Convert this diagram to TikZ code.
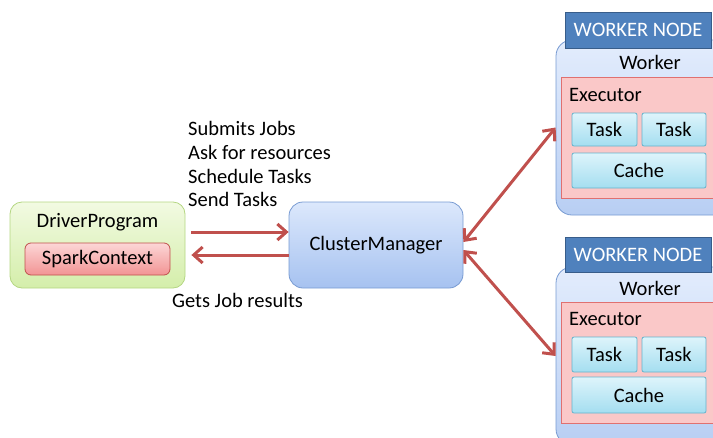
\documentclass[tikz,border=0pt]{standalone}
\usepackage{fontspec}
\setmainfont{Carlito}
\usepackage{tikz}
\usetikzlibrary{arrows.meta,positioning,calc}
\usepackage{xcolor}
\definecolor{drvtop}{RGB}{242,250,226}
\definecolor{drvbot}{RGB}{212,238,170}
\definecolor{drvline}{RGB}{180,214,130}
\definecolor{sctop}{RGB}{252,214,214}
\definecolor{scbot}{RGB}{242,148,148}
\definecolor{scline}{RGB}{192,80,77}
\definecolor{cmtop}{RGB}{220,232,252}
\definecolor{cmbot}{RGB}{166,194,240}
\definecolor{cmline}{RGB}{120,155,210}
\definecolor{hdrfill}{RGB}{79,129,189}
\definecolor{hdrline}{RGB}{56,93,138}
\definecolor{execfill}{RGB}{250,200,200}
\definecolor{execline}{RGB}{224,112,112}
\definecolor{tasktop}{RGB}{222,244,251}
\definecolor{taskbot}{RGB}{164,222,240}
\definecolor{taskline}{RGB}{100,180,205}
\definecolor{arrowred}{RGB}{192,80,77}
\tikzset{
    basebox/.style={
        rectangle,
        draw,
        line width=0.8pt,
        text centered
    },
    driverbox/.style={
        basebox,
        rounded corners=12pt,
        draw=drvline,
        top color=drvtop,
        bottom color=drvbot
    },
    contextbox/.style={
        basebox,
        rounded corners=6pt,
        draw=scline,
        top color=sctop,
        bottom color=scbot
    },
    managerbox/.style={
        basebox,
        rounded corners=14pt,
        draw=cmline,
        top color=cmtop,
        bottom color=cmbot
    },
    workerbox/.style={
        basebox,
        rounded corners=16pt,
        draw=cmline,
        top color=cmtop!80,
        bottom color=cmbot!80
    },
    headerbox/.style={
        basebox,
        draw=hdrline,
        fill=hdrfill,
        text=white
    },
    execbox/.style={
        basebox,
        draw=execline,
        fill=execfill
    },
    taskbox/.style={
        basebox,
        rounded corners=2pt,
        draw=taskline,
        top color=tasktop,
        bottom color=taskbot
    },
    bigarrow/.style={
        -{Straight Barb[length=9pt,width=16pt,line width=3pt]},
        line width=3pt,
        arrowred
    },
    bothways/.style={
        bigarrow,
        {Straight Barb[length=9pt,width=16pt,line width=3pt]}-{Straight Barb[length=9pt,width=16pt,line width=3pt]}
    }
}

\begin{document}
\begin{tikzpicture}[x=1pt,y=-1pt,font=\fontsize{20.5}{24}\selectfont]
    \useasboundingbox (0,0) rectangle (713,437);

    % Driver side
    \node[driverbox, minimum width=175pt, minimum height=86pt] (driver) at (97.5,245) {};
    \node (drivertitle) at (97.5,222) {DriverProgram};
    \node[contextbox, minimum width=145pt, minimum height=32pt] (sparkctx) at (97.5,259) {SparkContext};

    % Cluster manager
    \node[managerbox, minimum width=174pt, minimum height=86pt] (manager) at (376,245) {ClusterManager};

    % Worker node 1
    \node[workerbox, minimum width=184pt, minimum height=175pt] (worker1) at (648,127.5) {};
    \node[headerbox, minimum width=146pt, minimum height=36pt] (header1) at (638,30) {WORKER NODE};
    \node (workertitle1) at (650,62) {Worker};
    \node[execbox, minimum width=159pt, minimum height=121pt] (exec1) at (640.5,137.5) {};
    \node[anchor=west, inner sep=0pt] (exectitle1) at (569,95) {Executor};
    \node[taskbox, minimum width=65pt, minimum height=33pt] (task1a) at (604.5,129.5) {Task};
    \node[taskbox, minimum width=64pt, minimum height=33pt] (task1b) at (674,129.5) {Task};
    \node[taskbox, minimum width=134pt, minimum height=35pt] (cache1) at (639,170.5) {Cache};

    % Worker node 2
    \node[workerbox, minimum width=184pt, minimum height=178pt] (worker2) at (648,356) {};
    \node[headerbox, minimum width=146pt, minimum height=35pt] (header2) at (638,254.5) {WORKER NODE};
    \node (workertitle2) at (650,288) {Worker};
    \node[execbox, minimum width=159pt, minimum height=121pt] (exec2) at (640.5,362.5) {};
    \node[anchor=west, inner sep=0pt] (exectitle2) at (569,319) {Executor};
    \node[taskbox, minimum width=65pt, minimum height=35pt] (task2a) at (604.5,354.5) {Task};
    \node[taskbox, minimum width=64pt, minimum height=35pt] (task2b) at (674,354.5) {Task};
    \node[taskbox, minimum width=134pt, minimum height=36pt] (cache2) at (639,395) {Cache};

    % Driver <-> cluster manager
    \draw[bigarrow] ([xshift=6pt,yshift=13pt]driver.east) -- ([yshift=13pt]manager.west);
    \draw[bigarrow] ([yshift=-10pt]manager.west) -- ([xshift=6pt,yshift=-10pt]driver.east);

    % Cluster manager <-> workers
    \draw[bothways] ([yshift=3pt]manager.east) -- (worker1.west);
    \draw[bothways] ([yshift=-5pt]manager.east) -- (worker2.west);

    % Annotations
    \node[anchor=west, inner sep=0pt] (lblsubmit) at (188,128) {Submits Jobs};
    \node[anchor=west, inner sep=0pt] (lblask) at (188,152) {Ask for resources};
    \node[anchor=west, inner sep=0pt] (lblsched) at (188,176) {Schedule Tasks};
    \node[anchor=west, inner sep=0pt] (lblsend) at (188,199) {Send Tasks};
    \node[anchor=west, inner sep=0pt] (lblresults) at (172,300) {Gets Job results};
\end{tikzpicture}
\end{document}
